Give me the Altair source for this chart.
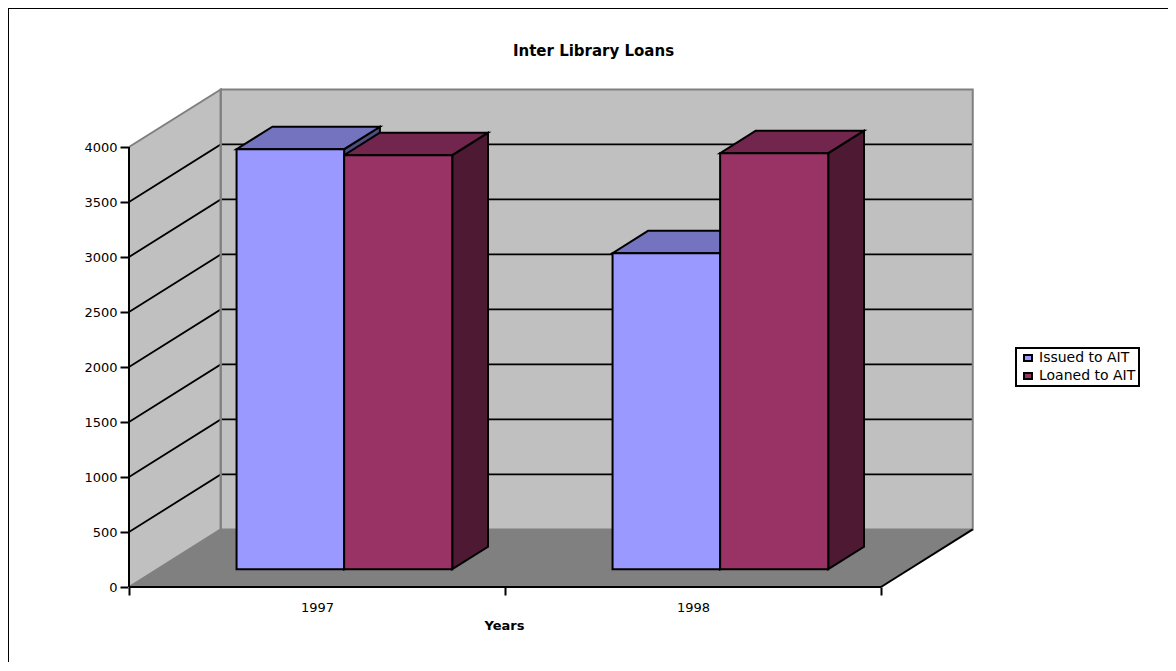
import altair as alt
import pandas as pd

years = ["1997", "1998"]
series = ["Issued to AIT", "Loaned to AIT"]
issued = [3818, 2873]
loaned = [3764, 3782]
y_ticks = [0, 500, 1000, 1500, 2000, 2500, 3000, 3500, 4000]
front_colors = ["#9999FF", "#993366"]
top_colors = ["#7373BF", "#73264D"]
side_colors = ["#4D4D80", "#4D1933"]

FONT = "DejaVu Sans"
W, H = 1159, 653
PX_X, PX_Y = 376.0, 0.11
X0 = (9 - 129) / PX_X
X1 = X0 + W / PX_X
Y1 = (587 - 9) / PX_Y
Y0 = Y1 - H / PX_Y
DX, DY = 0.244, 523.0
N = len(years)
VMAX = y_ticks[-1]
D1, D2 = 0.31, 0.70
GROUP_OFF = [(0.2104, 0.4965), (0.4965, 0.784)]

xs = alt.Scale(domain=[X0, X1], nice=False, zero=False)
ys = alt.Scale(domain=[Y0, Y1], nice=False, zero=False)
x_axis = alt.Axis(
    values=[0, 0.5, 1, 1.5, 2], offset=-75, domain=False, grid=False,
    labelExpr="datum.value == 0.5 ? '1997' : datum.value == 1.5 ? '1998' : ''",
    tickSize=8, tickWidth=2, tickColor="black",
    tickOpacity={"condition": {"test": "datum.value == 0.5 || datum.value == 1.5", "value": 0}, "value": 1},
    labelFont=FONT, labelFontSize=13, labelColor="black", labelPadding=6, labelFlush=False, labelOverlap=False,
    title="Years", titleFont=FONT, titleFontSize=13, titleFontWeight="bold", titleColor="black",
    titleX=495, titleY=32, titleAlign="center",
)
y_axis = alt.Axis(
    values=y_ticks, format="d", offset=-120, domain=False, grid=False, title=None,
    tickSize=9, tickWidth=2, tickColor="black",
    labelFont=FONT, labelFontSize=13, labelColor="black", labelPadding=3,
)


def X(f):
    return alt.X(f, type="quantitative", scale=xs, axis=x_axis, title="Years")


def Y(f):
    return alt.Y(f, type="quantitative", scale=ys, axis=y_axis, title=None)


# walls ------------------------------------------------------------------
back = pd.DataFrame([{"x": DX, "x2": N + DX, "y": DY, "y2": VMAX + DY}])
left = pd.DataFrame([{"x": t * DX, "y": t * DY, "y2": VMAX + t * DY} for t in (0, 1)])
floor = pd.DataFrame([{"y": t * DY, "x": t * DX, "x2": N + t * DX} for t in (0, 1)])

back_fill = alt.Chart(back).mark_rect(fill="#C0C0C0").encode(x=X("x"), x2="x2", y=Y("y"), y2="y2")
left_fill = alt.Chart(left).mark_area(fill="#C0C0C0").encode(x=X("x"), y=Y("y"), y2="y2")
floor_fill = alt.Chart(floor).mark_area(fill="#808080", orient="horizontal").encode(y=Y("y"), x=X("x"), x2="x2")

grid_rows = []
for v in y_ticks[1:-1]:
    grid_rows += [
        {"v": v, "x": 0, "y": v},
        {"v": v, "x": DX, "y": v + DY},
        {"v": v, "x": N + DX, "y": v + DY},
    ]
grid = alt.Chart(pd.DataFrame(grid_rows)).mark_line(color="black", strokeWidth=1.8).encode(
    x=X("x"), y=Y("y"), detail="v:N"
)

back_edge = alt.Chart(back).mark_rect(fill="transparent", stroke="#808080", strokeWidth=2).encode(
    x=X("x"), x2="x2", y=Y("y"), y2="y2"
)
left_edge = alt.Chart(left).mark_area(fill="transparent", stroke="#808080", strokeWidth=2).encode(
    x=X("x"), y=Y("y"), y2="y2"
)

# bars ------------------------------------------------------------------
fronts, sides, tops = [], [], []
for s, (name, vals) in enumerate(zip(series, (issued, loaned))):
    for c, v in enumerate(vals):
        a, b = GROUP_OFF[s]
        key = f"{s}-{c}"
        fronts.append({
            "series": name, "x": c + a + D1 * DX, "x2": c + b + D1 * DX,
            "y": v + D1 * DY, "y2": D1 * DY,
        })
        for d in (D1, D2):
            sides.append({
                "key": key, "color": side_colors[s], "x": c + b + d * DX,
                "y": v + d * DY, "y2": d * DY,
            })
            tops.append({
                "key": key, "color": top_colors[s], "y": v + d * DY,
                "x": c + a + d * DX, "x2": c + b + d * DX,
            })

side_layer = alt.Chart(pd.DataFrame(sides)).mark_area(stroke="black", strokeWidth=2).encode(
    x=X("x"), y=Y("y"), y2="y2", fill=alt.Fill("color:N", scale=None), detail="key:N"
)
top_layer = alt.Chart(pd.DataFrame(tops)).mark_area(stroke="black", strokeWidth=2, orient="horizontal").encode(
    y=Y("y"), x=X("x"), x2="x2", fill=alt.Fill("color:N", scale=None), detail="key:N"
)
front_layer = alt.Chart(pd.DataFrame(fronts)).mark_rect(stroke="black", strokeWidth=2).encode(
    x=X("x"), x2="x2", y=Y("y"), y2="y2",
    color=alt.Color(
        "series:N",
        scale=alt.Scale(domain=series, range=front_colors),
        legend=alt.Legend(
            title=None, orient="none", legendX=1007, legendY=339,
            symbolType="M-1,-0.75H1V0.75H-1Z", symbolSize=64, symbolOffset=2,
            symbolStrokeColor="black", symbolStrokeWidth=2, symbolOpacity=1,
            labelFont=FONT, labelFontSize=14, labelColor="black", labelLimit=200,
            padding=3, rowPadding=4, strokeColor="black", fillColor="white",
        ),
    ),
)

# axis lines and page frame -----------------------------------------------
axis_y = alt.Chart(pd.DataFrame([{"x": 0, "y": 0, "y2": VMAX}])).mark_rule(color="black", strokeWidth=2).encode(
    x=X("x"), y=Y("y"), y2="y2"
)
floor_front = alt.Chart(pd.DataFrame([{"x": 0, "x2": N, "y": 0}])).mark_rule(color="black", strokeWidth=2).encode(
    x=X("x"), x2="x2", y=Y("y")
)
floor_side = alt.Chart(pd.DataFrame([{"x": N, "y": 0}, {"x": N + DX, "y": DY}])).mark_line(
    color="black", strokeWidth=2
).encode(x=X("x"), y=Y("y"))
frame_top = alt.Chart(pd.DataFrame([{"a": 0}])).mark_rule(color="black", strokeWidth=2).encode(
    x=alt.value(-1), x2=alt.value(W), y=alt.value(-1)
)
frame_left = alt.Chart(pd.DataFrame([{"a": 0}])).mark_rule(color="black", strokeWidth=2).encode(
    x=alt.value(-1), y=alt.value(-1), y2=alt.value(H)
)

chart = alt.layer(
    back_fill, left_fill, floor_fill, grid, back_edge, left_edge,
    side_layer, top_layer, front_layer, axis_y, floor_front, floor_side,
    frame_top, frame_left,
).properties(
    width=W, height=H,
    title=alt.TitleParams(
        "Inter Library Loans", font=FONT, fontSize=15, fontWeight="bold", color="black",
        anchor="middle", dx=5, dy=56,
    ),
    autosize=alt.AutoSizeParams(type="none"),
    padding={"left": 1, "top": 1, "right": 0, "bottom": 0},
).configure_view(stroke=None).configure_legend(strokeWidth=2)

chart.save("out.html", embed_options={"renderer": "svg", "actions": False})
